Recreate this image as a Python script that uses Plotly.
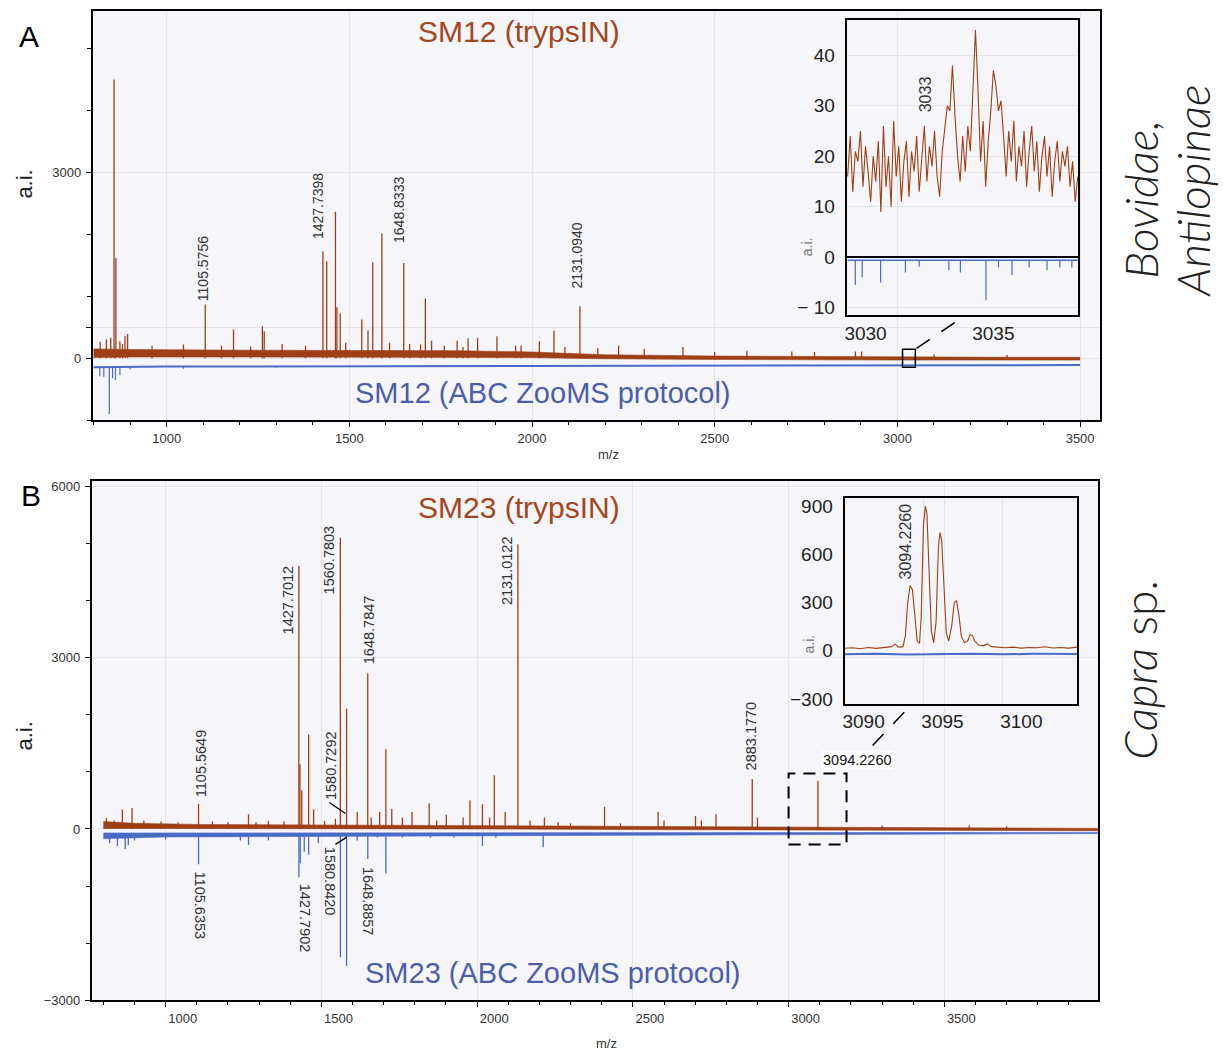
import plotly.graph_objects as go

W, H = 1223, 1053          # target picture size
H_LAYOUT = 1061            # page height that gets rescaled to the picture height
BROWN = '#9E3F16'
BLUE = '#4A6BC6'
TXT_BROWN = '#A4461E'
TXT_BLUE = '#4C5EA9'
GRID = '#E4E4EA'
BG = '#F5F5FA'

# ---------------- Panel A data (SM12) ----------------
a_top_mz = [818, 835, 847, 856, 861, 872, 879, 886, 893, 960, 1046, 1105.5756, 1150, 1183, 1230, 1262, 1267,
            1316, 1380, 1427.7398, 1438, 1462, 1466, 1475, 1490, 1534, 1551, 1564, 1589, 1610, 1648.8333,
            1665, 1695, 1708, 1725, 1760, 1795, 1811, 1825, 1851, 1904, 1955, 1970, 2020, 2060, 2090,
            2131.0940, 2180, 2237, 2307, 2413, 2500, 2588, 2711, 2773, 2885, 2902, 3100, 3300]
a_top_int = [260, 300, 330, 4495, 1618, 270, 230, 360, 390, 200, 220, 866, 200, 463, 190, 516, 435,
             230, 200, 1726, 1565, 2360, 823, 721, 250, 624, 447, 1548, 2011, 250, 1537,
             230, 220, 963, 280, 200, 280, 180, 320, 328, 355, 200, 200, 274, 447, 180,
             839, 160, 200, 150, 180, 100, 120, 110, 100, 110, 110, 60, 50]
a_band_mz = [800, 900, 1200, 1500, 1800, 2000, 2100, 2200, 2500, 2800, 3000, 3300, 3500]
a_band_lo = [10, 20, 20, 20, 15, 10, 0, -10, -20, -30, -30, -30, -30]
a_band_hi = [150, 140, 130, 130, 120, 100, 80, 55, 35, 25, 20, 15, 15]
a_bot_mz = [817, 828, 843, 852, 860, 872, 900, 1046, 1300, 1600]
a_bot_int = [-290, -300, -900, -320, -350, -270, -180, -170, -150, -140]
a_blue_base_mz = [800, 1000, 2000, 3000, 3500]
a_blue_base = [-145, -135, -125, -115, -110]

# Panel A inset (zoom 3029-3038)
a_ins_mz = [3029.3, 3029.4, 3029.5, 3029.6, 3029.7, 3029.8, 3029.9, 3030.0, 3030.1, 3030.2,
            3030.3, 3030.4, 3030.5, 3030.6, 3030.7, 3030.8, 3030.9, 3031.0, 3031.1, 3031.2,
            3031.3, 3031.4, 3031.5, 3031.6, 3031.7, 3031.8, 3031.9, 3032.0, 3032.1, 3032.2,
            3032.3, 3032.4, 3032.5, 3032.6, 3032.7, 3032.8, 3032.9, 3033.0, 3033.1, 3033.2,
            3033.3, 3033.4, 3033.5, 3033.6, 3033.7, 3033.8, 3033.9, 3034.0, 3034.1, 3034.2,
            3034.3, 3034.4, 3034.5, 3034.6, 3034.7, 3034.8, 3034.9, 3035.0, 3035.1, 3035.2,
            3035.3, 3035.4, 3035.5, 3035.6, 3035.7, 3035.8, 3035.9, 3036.0, 3036.1, 3036.2,
            3036.3, 3036.4, 3036.5, 3036.6, 3036.7, 3036.8, 3036.9, 3037.0, 3037.1, 3037.2,
            3037.3, 3037.4, 3037.5, 3037.6, 3037.7, 3037.8, 3037.9, 3038.0, 3038.1, 3038.2,
            3038.3]
a_ins_int = [16, 24, 13, 21, 19, 25, 14, 22, 17, 11,
             20, 15, 23, 9, 26, 14, 20, 10, 27, 16,
             22, 11, 19, 23, 12, 21, 17, 24, 13, 20,
             26, 15, 22, 18, 25, 16, 12, 21, 26, 30,
             29, 38, 28, 20, 15, 24, 17, 26, 21, 32,
             45, 33, 19, 27, 14, 23, 29, 37, 34, 29,
             31, 24, 16, 25, 19, 27, 15, 22, 18, 25,
             14, 21, 26, 17, 23, 13, 20, 24, 16, 22,
             12, 19, 23, 15, 21, 18, 22, 14, 19, 11,
             16]
a_ins_blue_mz = [3029.6, 3029.87, 3030.59, 3031.56, 3032.1, 3033.26, 3033.71, 3034.71, 3035.2,
                 3035.73, 3036.4, 3037.1, 3037.6, 3038.07]
a_ins_blue_int = [-5.5, -4, -5, -3, -1.8, -2.5, -3, -8.5, -2, -3.5, -2, -2.5, -2, -2]
a_ins_blue_base = -0.6

# ---------------- Panel B data (SM23) ----------------
b_top_mz = [810, 835, 861, 892, 930, 985, 1040, 1105.5649, 1150, 1200, 1266, 1290, 1330, 1380,
            1427.7012, 1431, 1437, 1459, 1475, 1510, 1545, 1560.7803, 1580.7292, 1615, 1648.7847,
            1660, 1687, 1707, 1726, 1760, 1791, 1846, 1870, 1901, 1955, 1977, 2017, 2040, 2055,
            2090, 2131.0122, 2170, 2216, 2260, 2300, 2409, 2460, 2581, 2600, 2701, 2720, 2767,
            2883.1770, 2900, 3094.2260, 3300, 3580, 3700]
b_top_int = [193, 150, 343, 369, 150, 130, 120, 440, 130, 120, 257, 120, 140, 130,
             4616, 1136, 680, 1656, 343, 140, 180, 5105, 2110, 300, 2730,
             200, 300, 1397, 350, 200, 300, 453, 150, 250, 200, 500, 434, 200, 941,
             300, 4987, 150, 200, 120, 100, 388, 100, 303, 150, 226, 150, 258,
             876, 200, 844, 60, 60, 50]
b_band_mz = [800, 900, 1100, 1500, 2000, 2500, 3000, 3500, 4000]
b_band_lo = [10, 10, 5, 5, 0, -10, -20, -30, -30]
b_band_hi = [130, 100, 80, 70, 60, 45, 25, 15, 10]
b_bot_mz = [820, 845, 870, 880, 900, 1000, 1105.6353, 1240, 1266, 1330, 1427.7902, 1432, 1445,
            1459, 1490, 1561, 1580.8420, 1615, 1648.8857, 1680, 1707, 1760, 1850, 1925, 2017,
            2060, 2212, 2400, 2580]
b_bot_int = [-250, -300, -350, -280, -200, -180, -620, -200, -280, -200, -848, -600, -400,
             -450, -250, -2250, -2400, -200, -524, -150, -780, -150, -150, -150, -297,
             -150, -320, -100, -90]
b_blue_band_mz = [800, 1000, 1500, 2000, 3000, 4000]
b_blue_band_lo = [-170, -140, -130, -120, -90, -80]
b_blue_band_hi = [-70, -70, -70, -60, -60, -60]

# Panel B inset (zoom 3090-3105)
b_ins_mz = [3090.0, 3090.5, 3091.0, 3091.5, 3092.0, 3092.5, 3093.0, 3093.2, 3093.4, 3093.7,
            3093.85, 3094.0, 3094.15, 3094.3, 3094.45, 3094.6, 3094.75, 3094.85, 3095.0, 3095.12,
            3095.22, 3095.35, 3095.5, 3095.65, 3095.8, 3095.95, 3096.05, 3096.15, 3096.3, 3096.45,
            3096.6, 3096.8, 3096.95, 3097.1, 3097.25, 3097.4, 3097.6, 3097.8, 3097.95, 3098.1,
            3098.25, 3098.5, 3098.8, 3099.05, 3099.3, 3099.7, 3100.2, 3100.7, 3101.2, 3101.7,
            3102.2, 3102.7, 3103.2, 3103.7, 3104.2, 3104.75]
b_ins_int = [15, 18, 12, 20, 14, 18, 25, 42, 22, 25,
             90, 300, 405, 380, 220, 60, 45, 200, 780, 900,
             850, 520, 120, 50, 180, 650, 735, 690, 380, 110,
             60, 160, 300, 310, 220, 90, 50, 60, 100, 95,
             60, 35, 30, 42, 25, 20, 18, 22, 16, 20,
             18, 24, 17, 20, 16, 22]
b_ins_blue_mz = [3090.0, 3092.0, 3094.0, 3096.0, 3098.0, 3100.0, 3102.0, 3104.75]
b_ins_blue_int = [-22, -20, -24, -21, -19, -23, -20, -21]

# axis tick values
a_xticks = [1000, 1500, 2000, 2500, 3000, 3500]
a_yticks = [0, 500, 3000]
a_ytext = ['0', '', '3000']
b_xticks = [1000, 1500, 2000, 2500, 3000, 3500]
b_yticks = [-3000, 0, 3000, 6000]
a_ins_xticks = [3030, 3035]
a_ins_yticks = [-10, 0, 10, 20, 30, 40]
a_ins_ytext = ['\u2212 10', '0', '10', '20', '30', '40']
b_ins_xticks = [3090, 3095, 3100]
b_ins_yticks = [-300, 0, 300, 600, 900]


def sticks(mz, inten, base=0.0):
    xs, ys = [], []
    for m, h in zip(mz, inten):
        xs += [m, m, None]
        ys += [base, h, None]
    return xs, ys


def PX(x):
    return x / W


def PY(y):
    return 1 - y / H


fig = go.Figure()


def add_band(mz, lo, hi, color, xa, ya):
    fig.add_trace(go.Scatter(x=mz, y=lo, mode='lines', line=dict(color=color, width=0.6),
                             xaxis=xa, yaxis=ya, hoverinfo='skip'))
    fig.add_trace(go.Scatter(x=mz, y=hi, mode='lines', line=dict(color=color, width=0.6),
                             fill='tonexty', fillcolor=color, xaxis=xa, yaxis=ya, hoverinfo='skip'))


# Panel A main
fig.add_trace(go.Scatter(x=a_blue_base_mz, y=a_blue_base, mode='lines', line=dict(color=BLUE, width=2),
                         xaxis='x', yaxis='y'))
xs, ys = sticks(a_bot_mz, a_bot_int, -130)
fig.add_trace(go.Scatter(x=xs, y=ys, mode='lines', line=dict(color=BLUE, width=1.2), xaxis='x', yaxis='y'))
add_band(a_band_mz, a_band_lo, a_band_hi, BROWN, 'x', 'y')
xs, ys = sticks(a_top_mz, a_top_int, 0)
fig.add_trace(go.Scatter(x=xs, y=ys, mode='lines', line=dict(color=BROWN, width=1.3), xaxis='x', yaxis='y'))

# Panel A inset
xs, ys = sticks(a_ins_blue_mz, a_ins_blue_int, a_ins_blue_base)
fig.add_trace(go.Scatter(x=[a_ins_mz[0], a_ins_mz[-1]], y=[a_ins_blue_base, a_ins_blue_base], mode='lines',
                         line=dict(color=BLUE, width=1.5), xaxis='x2', yaxis='y2'))
fig.add_trace(go.Scatter(x=xs, y=ys, mode='lines', line=dict(color=BLUE, width=1.2), xaxis='x2', yaxis='y2'))
fig.add_trace(go.Scatter(x=a_ins_mz, y=a_ins_int, mode='lines', line=dict(color=BROWN, width=1.1),
                         xaxis='x2', yaxis='y2'))

# Panel B main
add_band(b_blue_band_mz, b_blue_band_lo, b_blue_band_hi, BLUE, 'x3', 'y3')
xs, ys = sticks(b_bot_mz, b_bot_int, -70)
fig.add_trace(go.Scatter(x=xs, y=ys, mode='lines', line=dict(color=BLUE, width=1.3), xaxis='x3', yaxis='y3'))
add_band(b_band_mz, b_band_lo, b_band_hi, BROWN, 'x3', 'y3')
xs, ys = sticks(b_top_mz, b_top_int, 0)
fig.add_trace(go.Scatter(x=xs, y=ys, mode='lines', line=dict(color=BROWN, width=1.3), xaxis='x3', yaxis='y3'))

# Panel B inset
fig.add_trace(go.Scatter(x=b_ins_blue_mz, y=b_ins_blue_int, mode='lines', line=dict(color=BLUE, width=2),
                         xaxis='x4', yaxis='y4'))
fig.add_trace(go.Scatter(x=b_ins_mz, y=b_ins_int, mode='lines', line=dict(color=BROWN, width=1.1),
                         xaxis='x4', yaxis='y4'))

TICKF = dict(family='Liberation Sans, Arial, sans-serif', size=13, color='#333333')
INSF = dict(family='Liberation Sans, Arial, sans-serif', size=19, color='#222222')

main_x = dict(showline=True, linecolor='black', linewidth=2, mirror=True, ticks='outside', ticklen=5,
              tickcolor='black', tickfont=TICKF, showgrid=True, gridcolor=GRID, zeroline=False,
              minor=dict(dtick=100, tick0=0, ticks='outside', ticklen=3, tickcolor='black', showgrid=False))
main_y = dict(showline=True, linecolor='black', linewidth=2, mirror=True, ticks='outside', ticklen=5,
              tickcolor='black', tickfont=TICKF, showgrid=True, gridcolor=GRID, zeroline=False, ticklabelstandoff=2,
              minor=dict(dtick=1000, tick0=0, ticks='outside', ticklen=4, tickcolor='black', showgrid=False))

fig.update_layout(
    width=W, height=H_LAYOUT, autosize=False, margin=dict(l=0, r=0, t=0, b=0),
    paper_bgcolor='white', plot_bgcolor='rgba(0,0,0,0)', showlegend=False,
    xaxis=dict(main_x, domain=[PX(91), PX(1100)], range=[798, 3555], tickvals=a_xticks, anchor='y'),
    yaxis=dict(main_y, domain=[PY(419), PY(9)], range=[-1000, 5600], tickvals=a_yticks, ticktext=a_ytext,
               anchor='x'),
    xaxis2=dict(domain=[PX(846), PX(1078)], range=[3029.26, 3038.32], tickvals=a_ins_xticks, ticks='',
                showline=True, linecolor='black', linewidth=2, mirror=True, showgrid=False, zeroline=False,
                tickfont=INSF, anchor='y2'),
    yaxis2=dict(domain=[PY(314), PY(18)], range=[-11.5, 47], tickvals=a_ins_yticks, ticktext=a_ins_ytext,
                ticks='', showline=True, linecolor='black', linewidth=2, mirror=True, showgrid=True,
                gridcolor=GRID, zeroline=True, zerolinecolor='black', zerolinewidth=2, tickfont=INSF,
                ticklabelstandoff=6, anchor='x2'),
    xaxis3=dict(main_x, domain=[PX(90), PX(1098)], range=[763, 3994], tickvals=b_xticks, ticklabelshift=17,
                anchor='y3'),
    yaxis3=dict(main_y, domain=[PY(1000), PY(480)], range=[-3000, 6100], tickvals=b_yticks, anchor='x3'),
    xaxis4=dict(domain=[PX(844), PX(1077)], range=[3090.0, 3104.75], tickvals=b_ins_xticks, ticks='',
                ticklabelshift=19, showline=True, linecolor='black', linewidth=2, mirror=True, showgrid=True,
                gridcolor=GRID, zeroline=False, tickfont=INSF, anchor='y4'),
    yaxis4=dict(domain=[PY(703), PY(497)], range=[-330, 950], tickvals=b_ins_yticks, ticks='',
                showline=True, linecolor='black', linewidth=2, mirror=True, showgrid=False, zeroline=False,
                tickfont=INSF, ticklabelstandoff=6, anchor='x4'),
)

shapes = [
    dict(type='rect', xref='x domain', yref='y domain', x0=0, x1=1, y0=0, y1=1, fillcolor=BG,
         line=dict(width=0), layer='below'),
    dict(type='rect', xref='x3 domain', yref='y3 domain', x0=0, x1=1, y0=0, y1=1, fillcolor=BG,
         line=dict(width=0), layer='below'),
    # zoom marker in A
    dict(type='rect', xref='x', yref='y', x0=3014, x1=3049, y0=-145, y1=145,
         line=dict(color='black', width=1.5)),
    dict(type='line', xref='paper', yref='paper', x0=PX(916), y0=PY(347), x1=PX(962), y1=PY(316),
         line=dict(color='black', width=1.5, dash='16px,14px')),
    # zoom marker in B
    dict(type='rect', xref='x3', yref='y3', x0=3000, x1=3186, y0=-270, y1=974,
         line=dict(color='black', width=2, dash='12px,8px')),
    dict(type='line', xref='paper', yref='paper', x0=PX(872), y0=PY(745), x1=PX(910), y1=PY(705),
         line=dict(color='black', width=1.5, dash='16px,14px')),
    # leaders for 1580 labels
    dict(type='line', xref='paper', yref='paper', x0=PX(328), y0=PY(802), x1=PX(344), y1=PY(813),
         line=dict(color='black', width=1.3)),
    dict(type='line', xref='paper', yref='paper', x0=PX(334), y0=PY(844), x1=PX(345), y1=PY(837),
         line=dict(color='black', width=1.3)),
]
fig.update_layout(shapes=shapes)

ann = []


def txt(x, y, s, size, color='#333333', angle=0, family='Liberation Sans, Arial, sans-serif', **kw):
    font = dict(family=family, size=size, color=color)
    font.update(kw.pop('font_extra', {}))
    ann.append(dict(x=PX(x), y=PY(y), xref='paper', yref='paper', text=s, showarrow=False,
                    textangle=angle, font=font, xanchor='center', yanchor='middle', **kw))


# panel letters / titles
txt(27, 35, 'A', 30, 'black')
txt(29, 494, 'B', 30, 'black')
txt(518, 30, 'SM12 (trypsIN)', 30, TXT_BROWN)
txt(542, 392, 'SM12 (ABC ZooMS protocol)', 29, TXT_BLUE)
txt(518, 506, 'SM23 (trypsIN)', 30, TXT_BROWN)
txt(552, 973, 'SM23 (ABC ZooMS protocol)', 29, TXT_BLUE)
txt(23, 182, 'a.i.', 22, '#222222', angle=-90)
txt(23, 735, 'a.i.', 22, '#222222', angle=-90)
txt(607, 453, 'm/z', 13, '#333333')
txt(605, 1043, 'm/z', 13, '#333333')
txt(806, 245, 'a.i.', 14, '#777777', angle=-90)
txt(808, 643, 'a.i.', 14, '#777777', angle=-90)

# species
SP = 'Lato, Liberation Sans, sans-serif'
txt(1140, 198, '<i>Bovidae,</i>', 46, '#222222', angle=-90, family=SP, font_extra=dict(weight=300))
txt(1193, 190, '<i>Antilopinae</i>', 46, '#222222', angle=-90, family=SP, font_extra=dict(weight=300))
txt(1140, 669, '<i>Capra</i> sp.', 46, '#222222', angle=-90, family=SP, font_extra=dict(weight=300))

# peak labels A
for x, y, s in [(202, 267, '1105.5756'), (316, 204, '1427.7398'), (397, 208, '1648.8333'),
                (575, 254, '2131.0940')]:
    txt(x, y, s, 14, '#333333', angle=-90)
txt(925, 92, '3033', 16, '#333333', angle=-90)

# peak labels B (upper)
for x, y, s in [(199, 763, '1105.5649'), (286, 599, '1427.7012'), (327, 559, '1560.7803'),
                (329, 765, '1580.7292'), (367, 629, '1648.7847'), (506, 570, '2131.0122'),
                (750, 735, '2883.1770')]:
    txt(x, y, s, 14.5, '#333333', angle=-90)
# lower
for x, y, s in [(198, 905, '1105.6353'), (303, 918, '1427.7902'), (328, 881, '1580.8420'),
                (366, 901, '1648.8857')]:
    txt(x, y, s, 14.5, '#333333', angle=90)
txt(905, 541, '3094.2260', 16, '#333333', angle=-90)
txt(857, 759, '3094.2260', 14.5, '#111111', bgcolor='white')

fig.update_layout(annotations=ann)

fig.write_html('out.html', config={'displayModeBar': False},
               post_script="document.body.style.margin='0px';document.body.style.overflow='hidden';")
